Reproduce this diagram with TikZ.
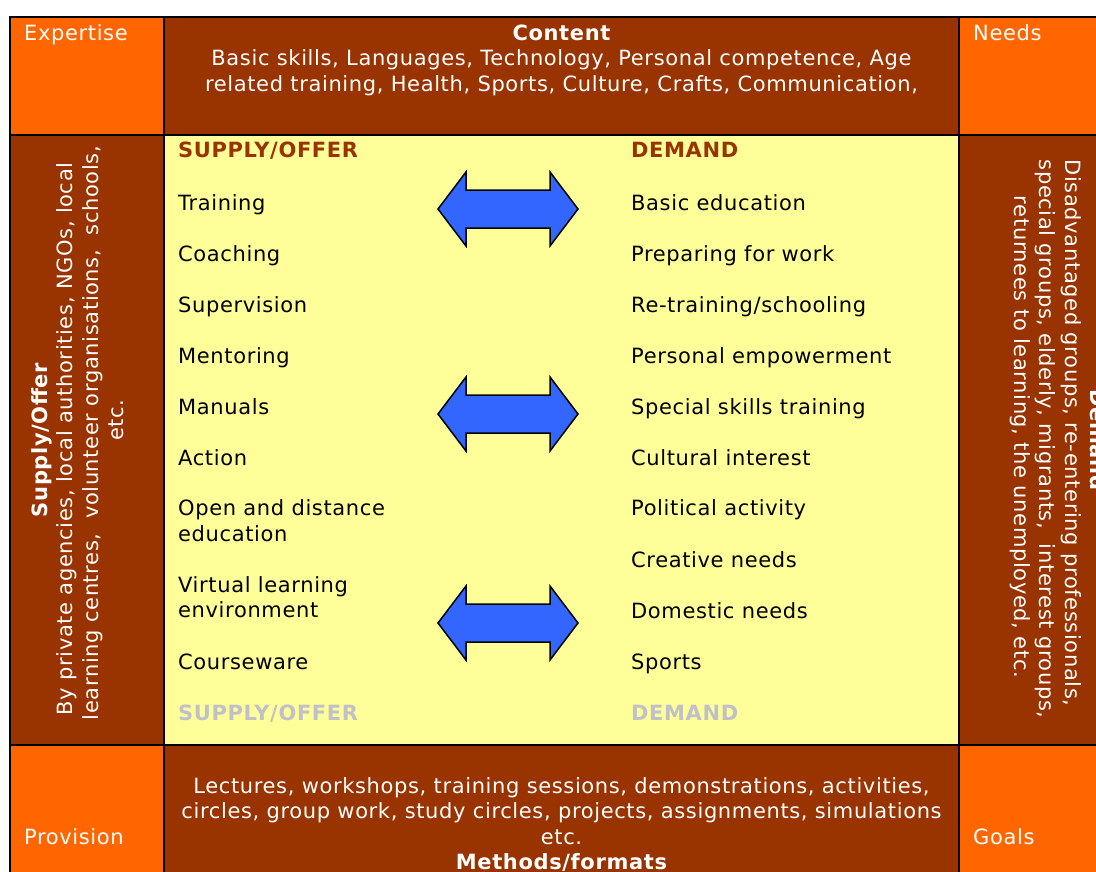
\documentclass[tikz,border=0pt]{standalone}
\usepackage{fontspec}
\setmainfont{DejaVu Sans}[LetterSpace=3]
\definecolor{orng}{HTML}{FF6600}
\definecolor{brwn}{HTML}{993300}
\definecolor{yel}{HTML}{FFFF99}
\definecolor{arrowblue}{HTML}{3366FF}
\definecolor{lgray}{HTML}{C0C0C8}
\begin{document}
\begin{tikzpicture}[x=1pt,y=-1pt,
  cell/.style={draw=black,line width=2.6pt},
  txt/.style={inner sep=0pt,font=\fontsize{21}{25.5}\selectfont},
  wtxt/.style={txt,text=white},
  item/.style={txt,anchor=base west,text=black},
  hdr/.style={txt,anchor=base west,font=\fontsize{21}{25.5}\selectfont\bfseries,text=brwn},
  ghdr/.style={hdr,text=lgray},
  dblarrow/.pic={\draw[fill=arrowblue,line width=1.5pt,line join=miter]
     (-70,0) -- (-42,-37) -- (-42,-19) -- (42,-19) -- (42,-37) -- (70,0)
     -- (42,37) -- (42,19) -- (-42,19) -- (-42,37) -- cycle;}
]
\clip (0,0) rectangle (1096,871);
\fill[white] (0,0) rectangle (1096,871);
% cells
\draw[cell,fill=orng] (10,17) rectangle (164,135);
\draw[cell,fill=brwn] (164,17) rectangle (959,135);
\draw[cell,fill=orng] (959,17) rectangle (1115,135);
\draw[cell,fill=brwn] (10,135) rectangle (164,745);
\draw[cell,fill=yel] (164,135) rectangle (959,745);
\draw[cell,fill=brwn] (959,135) rectangle (1115,745);
\draw[cell,fill=orng] (10,745) rectangle (164,890);
\draw[cell,fill=brwn] (164,745) rectangle (959,890);
\draw[cell,fill=orng] (959,745) rectangle (1115,890);
% corner labels
\node[wtxt,anchor=base west] (expertise) at (24,40.5) {Expertise};
\node[wtxt,anchor=base west] (needs) at (973,40.5) {Needs};
\node[wtxt,anchor=base west] (provision) at (24,844) {Provision};
\node[wtxt,anchor=base west] (goals) at (973,844) {Goals};
% top content
\node[wtxt,anchor=base,font=\fontsize{21}{25.5}\selectfont\bfseries] (content) at (561.5,40) {Content};
\node[wtxt,anchor=base] (c1) at (561.5,65.5) {Basic skills, Languages, Technology, Personal competence, Age};
\node[wtxt,anchor=base] (c2) at (561.5,91) {related training, Health, Sports, Culture, Crafts, Communication,};
% bottom methods
\node[wtxt,anchor=base] (m1) at (561.5,793) {Lectures, workshops, training sessions, demonstrations, activities,};
\node[wtxt,anchor=base] (m2) at (561.5,818.5) {circles, group work, study circles, projects, assignments, simulations};
\node[wtxt,anchor=base] (m3) at (561.5,844) {etc.};
\node[wtxt,anchor=base,font=\fontsize{21}{25.5}\selectfont\bfseries] (methods) at (561.5,869.5) {Methods/formats};
% left vertical
\node[wtxt,anchor=base,rotate=90,font=\fontsize{21}{25.5}\selectfont\bfseries] (supply) at (47,440) {Supply/Offer};
\node[wtxt,anchor=base,rotate=90] (l1) at (72.5,439) {By private agencies, local authorities, NGOs, local};
\node[wtxt,anchor=base,rotate=90] (l2) at (98,433) {learning centres,\ \ volunteer organisations,\ \ schools,};
\node[wtxt,anchor=base,rotate=90] (l3) at (123.5,420) {etc.};
% right vertical
\node[wtxt,anchor=base,rotate=-90,font=\fontsize{21}{25.5}\selectfont\bfseries] (demandv) at (1090,440) {Demand};
\node[wtxt,anchor=base,rotate=-90] (r1) at (1065,433) {Disadvantaged groups, re-entering professionals,};
\node[wtxt,anchor=base,rotate=-90] (r2) at (1039.5,439) {special groups, elderly, migrants,\ \ interest groups,};
\node[wtxt,anchor=base,rotate=-90] (r3) at (1014,437) {returnees to learning, the unemployed, etc.};
% supply column
\node[hdr] (sh) at (178,157) {SUPPLY/OFFER};
\node[item] (s1) at (178,210) {Training};
\node[item] (s2) at (178,261) {Coaching};
\node[item] (s3) at (178,312) {Supervision};
\node[item] (s4) at (178,363) {Mentoring};
\node[item] (s5) at (178,414) {Manuals};
\node[item] (s6) at (178,465) {Action};
\node[item] (s7a) at (178,515.5) {Open and distance};
\node[item] (s7b) at (178,541) {education};
\node[item] (s8a) at (178,592) {Virtual learning};
\node[item] (s8b) at (178,617.5) {environment};
\node[item] (s9) at (178,669) {Courseware};
\node[ghdr] (sf) at (178,720.5) {SUPPLY/OFFER};
% demand column
\node[hdr] (dh) at (631,157) {DEMAND};
\node[item] (d1) at (631,210) {Basic education};
\node[item] (d2) at (631,261) {Preparing for work};
\node[item] (d3) at (631,312) {Re-training/schooling};
\node[item] (d4) at (631,363) {Personal empowerment};
\node[item] (d5) at (631,414) {Special skills training};
\node[item] (d6) at (631,465) {Cultural interest};
\node[item] (d7) at (631,515.5) {Political activity};
\node[item] (d8) at (631,567) {Creative needs};
\node[item] (d9) at (631,618.5) {Domestic needs};
\node[item] (d10) at (631,669.5) {Sports};
\node[ghdr] (df) at (631,720.5) {DEMAND};
% arrows
\pic at (508,209) {dblarrow};
\pic at (508,414) {dblarrow};
\pic at (508,623) {dblarrow};
\end{tikzpicture}
\end{document}
